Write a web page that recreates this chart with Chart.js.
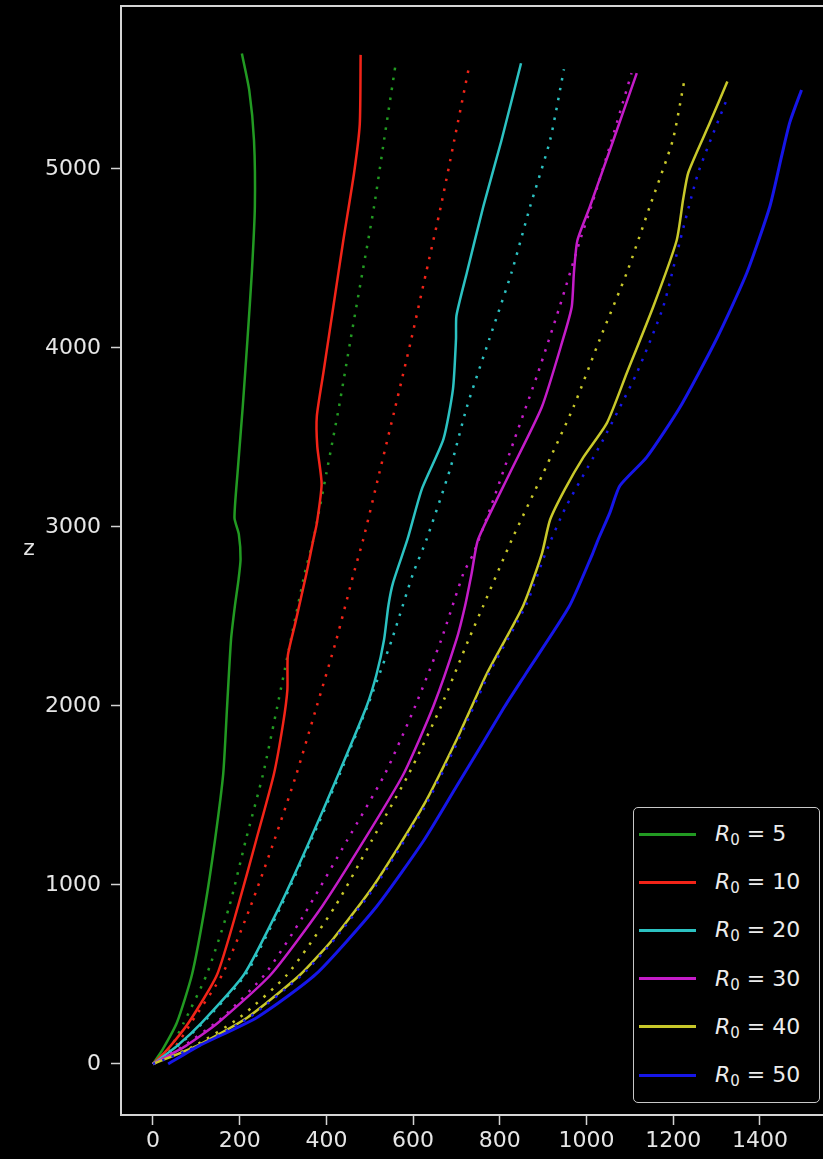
<!DOCTYPE html>
<html>
<head>
<meta charset="utf-8">
<script src="https://cdn.jsdelivr.net/npm/chart.js@4.4.0/dist/chart.umd.min.js"></script>
<style>
  html, body { margin: 0; padding: 0; background: #000; overflow: hidden; }
  #wrap { position: relative; width: 823px; height: 1159px; }
  #legend {
    position: absolute; left: 633px; top: 807px; width: 187px; height: 296px;
    box-sizing: border-box; border: 1.5px solid #c8c8c8; border-radius: 5px;
    background: #000; font-family: "DejaVu Sans", sans-serif; color: #ececec;
  }
  #legend .swatch { position: absolute; left: 5px; width: 57px; height: 3px; }
  #legend .lab { position: absolute; left: 81px; height: 30px; line-height: 30px; font-size: 22px; white-space: nowrap; }
  #legend .lab i { font-style: italic; }
  #legend .lab sub { font-size: 15px; vertical-align: -4px; line-height: 0; }
</style>
</head>
<body>
<div id="wrap">
  <canvas id="c" width="823" height="1159"></canvas>
  <div id="legend"></div>
</div>
<script>
// Entrainment parameter of each profile
const R0_VALUES = [5, 10, 20, 30, 40, 50];

// Axis ticks
const X_TICKS = [0, 200, 400, 600, 800, 1000, 1200, 1400];
const Z_TICKS = [0, 1000, 2000, 3000, 4000, 5000];

// Solid profiles: horizontal position x against height z
const zR5  = [0, 80, 230, 500, 880, 1250, 1620, 2000, 2370, 2560, 2700, 2820, 2960, 3050, 3300, 3670, 4050, 4420, 4790, 5160, 5440, 5645];
const xR5  = [0, 22, 55, 90, 120, 143, 162, 171, 180, 189, 197, 202, 198, 188, 195, 207, 218, 228, 235, 233, 222, 205];

const zR10 = [0, 80, 230, 500, 880, 1250, 1620, 1900, 2090, 2280, 2460, 2740, 2930, 3020, 3240, 3450, 3620, 3860, 4230, 4600, 4980, 5250, 5637];
const xR10 = [0, 33, 82, 148, 196, 238, 279, 300, 310, 311, 328, 354, 370, 378, 389, 379, 378, 393, 416, 439, 464, 477, 479];

const zR20 = [0, 100, 230, 500, 880, 1250, 1620, 2000, 2180, 2370, 2560, 2690, 2930, 3210, 3490, 3770, 4050, 4180, 4420, 4790, 5160, 5590];
const xR20 = [0, 55, 112, 210, 292, 362, 428, 493, 516, 533, 543, 554, 587, 620, 670, 692, 699, 700, 724, 762, 804, 849];

const zR30 = [0, 100, 230, 500, 880, 1250, 1620, 2000, 2370, 2560, 2740, 2930, 3300, 3670, 4050, 4230, 4420, 4600, 4790, 5160, 5535];
const xR30 = [0, 75, 150, 272, 390, 487, 578, 647, 700, 720, 735, 750, 823, 897, 946, 966, 971, 979, 1008, 1062, 1116];

const zR40 = [0, 100, 260, 500, 700, 1000, 1440, 1810, 2180, 2560, 2850, 3040, 3210, 3390, 3580, 3860, 4230, 4600, 4830, 4980, 5260, 5488];
const xR40 = [0, 100, 218, 340, 416, 510, 623, 700, 770, 854, 897, 916, 950, 993, 1047, 1093, 1154, 1208, 1223, 1235, 1285, 1325];

const zR50 = [0, 100, 260, 500, 880, 1250, 1550, 1810, 2000, 2180, 2555, 2850, 2930, 3080, 3230, 3390, 3670, 4050, 4420, 4790, 5070, 5260, 5441];
const xR50 = [35, 105, 240, 375, 516, 625, 700, 765, 812, 860, 960, 1014, 1027, 1054, 1077, 1139, 1216, 1300, 1370, 1423, 1450, 1469, 1496];

// Dotted profiles
const zR5d  = [0, 100, 230, 500, 880, 1250, 1620, 2000, 2370, 2740, 2930, 3300, 3670, 4050, 4420, 4790, 5160, 5590];
const xR5d  = [0, 42, 71, 124, 176, 214, 254, 287, 318, 350, 370, 400, 429, 456, 483, 510, 533, 560];

const zR10d = [0, 100, 230, 500, 880, 1250, 1620, 2000, 2370, 2740, 2930, 3300, 3670, 4050, 4420, 4790, 5160, 5581];
const xR10d = [0, 52, 88, 160, 225, 280, 331, 378, 423, 463, 485, 522, 559, 596, 630, 664, 695, 730];

const zR20d = [0, 100, 230, 500, 880, 1250, 1620, 2000, 2370, 2740, 2930, 3320, 3670, 4050, 4420, 4790, 5160, 5557];
const xR20d = [0, 57, 115, 214, 295, 365, 431, 495, 551, 600, 631, 685, 724, 776, 827, 870, 916, 948];

const zR30d = [0, 100, 260, 500, 820, 1250, 1620, 2000, 2370, 2740, 2850, 3110, 3490, 3860, 4230, 4600, 4790, 5160, 5535];
const xR30d = [0, 70, 160, 258, 345, 448, 535, 605, 665, 716, 739, 779, 834, 888, 938, 985, 1011, 1058, 1104];

const zR40d = [0, 100, 260, 500, 880, 1250, 1620, 2000, 2370, 2560, 2930, 3300, 3670, 4050, 4420, 4790, 5160, 5497];
const xR40d = [0, 95, 200, 310, 420, 505, 590, 665, 728, 762, 828, 900, 970, 1031, 1093, 1146, 1199, 1226];

const zR50d = [0, 100, 260, 500, 700, 1000, 1440, 1810, 2180, 2560, 2850, 3110, 3490, 3860, 4230, 4600, 4980, 5385];
const xR50d = [0, 104, 222, 345, 420, 515, 628, 705, 775, 860, 905, 952, 1039, 1116, 1177, 1216, 1258, 1323];

// Line styling
const LINE_COLORS = ['#229a22', '#f22418', '#2cc2c2', '#c41cc8', '#c8c82a', '#1616e8'];
const TEXT_COLOR = '#e6e6e6';
const SPINE_COLOR = '#d4d4d4';
const FONT = 'DejaVu Sans';

const solid = [[zR5, xR5], [zR10, xR10], [zR20, xR20], [zR30, xR30], [zR40, xR40], [zR50, xR50]];
const dotted = [[zR5d, xR5d], [zR10d, xR10d], [zR20d, xR20d], [zR30d, xR30d], [zR40d, xR40d], [zR50d, xR50d]];

const toPoints = (z, x) => z.map((zz, k) => ({ x: x[k], y: zz }));

const datasets = [];
R0_VALUES.forEach((r0, i) => {
  datasets.push({
    label: 'R0 = ' + r0,
    data: toPoints(solid[i][0], solid[i][1]),
    borderColor: LINE_COLORS[i],
    borderWidth: i === 5 ? 3 : 2.5,
    showLine: true, pointRadius: 0, tension: 0.2, fill: false
  });
  datasets.push({
    label: 'R0 = ' + r0 + ' (dotted)',
    data: toPoints(dotted[i][0], dotted[i][1]),
    borderColor: LINE_COLORS[i],
    borderWidth: 2.5,
    borderDash: [2.5, 7.5],
    borderCapStyle: 'butt',
    showLine: true, pointRadius: 0, tension: 0.2, fill: false
  });
});
// later profiles are drawn on top
datasets.forEach((d, i) => { d.order = datasets.length - i; });

// top spine and the horizontal "z" label
const decorations = {
  id: 'decorations',
  afterDraw(chart) {
    const { ctx, chartArea: a } = chart;
    ctx.save();
    ctx.strokeStyle = SPINE_COLOR;
    ctx.lineWidth = 2;
    ctx.beginPath();
    ctx.moveTo(a.left - 1, a.top);
    ctx.lineTo(a.right, a.top);
    ctx.stroke();
    ctx.fillStyle = TEXT_COLOR;
    ctx.font = '22px "' + FONT + '"';
    ctx.textAlign = 'center';
    ctx.textBaseline = 'middle';
    ctx.fillText('z', 29, 549);
    ctx.restore();
  }
};

const axisCommon = (ticks) => ({
  type: 'linear',
  afterBuildTicks: sc => { sc.ticks = ticks.map(v => ({ value: v })); },
  grid: { display: true, drawOnChartArea: false, drawTicks: true, tickLength: 10, tickColor: SPINE_COLOR, tickWidth: 1.5 },
  border: { display: true, color: SPINE_COLOR, width: 2 },
  ticks: {
    color: TEXT_COLOR, font: { family: FONT, size: 22 }, autoSkip: false, maxRotation: 0,
    callback: v => String(v)
  }
});

const xScale = axisCommon(X_TICKS);
xScale.min = -73.8; xScale.max = 1545.6;
xScale.afterFit = sc => { sc.height = 44; sc.paddingLeft = 0; sc.paddingRight = 0; };
xScale.ticks.padding = 3;

const yScale = axisCommon(Z_TICKS);
yScale.min = -285; yScale.max = 5910;
yScale.afterFit = sc => { sc.width = 121; sc.paddingTop = 0; sc.paddingBottom = 0; };
yScale.ticks.padding = 10;

Chart.defaults.font.family = FONT;
new Chart(document.getElementById('c'), {
  type: 'scatter',
  data: { datasets },
  options: {
    responsive: false, animation: false, devicePixelRatio: 1,
    layout: { padding: { top: 6, right: 0, bottom: 0, left: 0 } },
    plugins: { legend: { display: false }, tooltip: { enabled: false } },
    scales: { x: xScale, y: yScale }
  },
  plugins: [decorations]
});

// legend box with one entry per solid profile
const legend = document.getElementById('legend');
const ROW0 = 26, ROW_STEP = 48.2;
R0_VALUES.forEach((r0, i) => {
  const cy = ROW0 + i * ROW_STEP;
  const sw = document.createElement('div');
  sw.className = 'swatch';
  sw.style.top = (cy - 1.5) + 'px';
  sw.style.background = LINE_COLORS[i];
  legend.appendChild(sw);
  const lab = document.createElement('div');
  lab.className = 'lab';
  lab.style.top = (cy - 15) + 'px';
  lab.innerHTML = '<i>R</i><sub>0</sub> = ' + r0;
  legend.appendChild(lab);
});
</script>
</body>
</html>
